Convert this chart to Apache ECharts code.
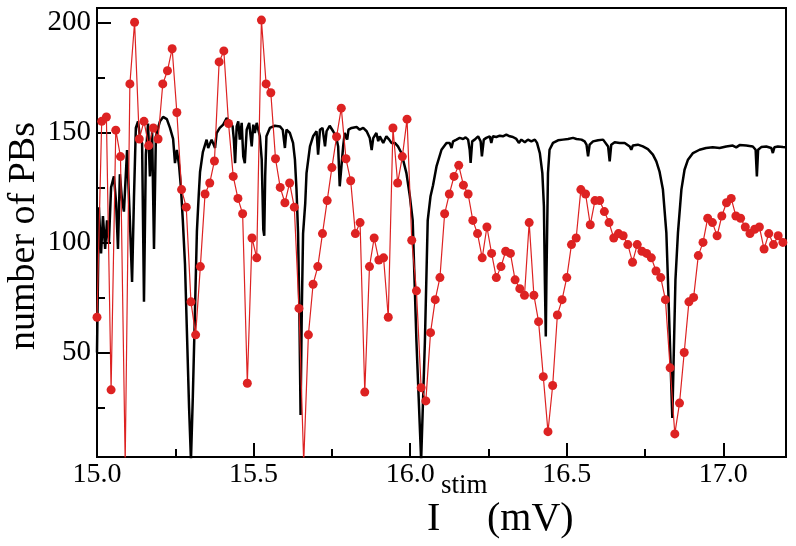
<!DOCTYPE html>
<html><head><meta charset="utf-8">
<script src="https://cdn.jsdelivr.net/npm/echarts@6/dist/echarts.min.js"></script>
<style>html,body{margin:0;padding:0;background:#fff}#c{width:796px;height:546px}</style>
</head><body><div id="c"></div>
<script>
// Red series: number of PBs (dots)
var redX = [
15.000,15.015,15.030,15.045,15.060,15.075,15.090,15.105,15.120,15.135,
15.150,15.165,15.180,15.195,15.210,15.225,15.240,15.255,15.270,15.285,
15.300,15.315,15.330,15.345,15.360,15.375,15.390,15.405,15.420,15.435,
15.450,15.465,15.480,15.495,15.510,15.525,15.540,15.555,15.570,15.585,
15.600,15.615,15.630,15.645,15.660,15.675,15.690,15.705,15.720,15.735,
15.750,15.765,15.780,15.795,15.810,15.825,15.840,15.855,15.870,15.885,
15.900,15.915,15.930,15.945,15.960,15.975,15.990,16.005,16.020,16.035,
16.050,16.065,16.080,16.095,16.110,16.125,16.140,16.155,16.170,16.185,
16.200,16.215,16.230,16.245,16.260,16.275,16.290,16.305,16.320,16.335,
16.350,16.365,16.380,16.395,16.410,16.425,16.440,16.455,16.470,16.485,
16.500,16.515,16.530,16.545,16.560,16.575,16.590,16.605,16.620,16.635,
16.650,16.665,16.680,16.695,16.710,16.725,16.740,16.755,16.770,16.785,
16.800,16.815,16.830,16.845,16.860,16.875,16.890,16.905,16.920,16.935,
16.950,16.965,16.980,16.995,17.010,17.025,17.040,17.055,17.070,17.085,
17.100,17.115,17.130,17.145,17.160,17.175,17.190];
var redY = [
66,155,157,33,151,139,0,172,200,147,
155,144,152,147,172,178,188,159,124,116,
73,58,89,122,127,137,182,187,154,130,
120,113,36,102,93,201,172,168,138,125,
118,127,116,70,0,58,81,89,104,119,
134,148,161,138,128,104,109,32,89,102,
92,93,66,152,127,139,156,101,78,34,
28,59,74,84,113,122,130,135,126,122,
110,104,93,107,95,84,89,96,95,83,
79,76,109,76,64,39,14,35,67,74,
84,99,102,124,122,108,119,119,114,109,
102,104,103,99,91,99,96,95,93,87,
84,74,43,13,27,50,73,75,94,100,
111,109,103,112,118,120,112,111,107,104,
106,107,97,104,99,103,100];

// Black series: continuous curve
var blackX = [
15.000,15.006,15.013,15.019,15.026,15.032,15.038,15.045,15.054,15.061,
15.067,15.073,15.080,15.086,15.096,15.105,15.112,15.118,15.124,15.131,
15.137,15.144,15.150,15.156,15.163,15.169,15.176,15.182,15.188,15.195,
15.201,15.211,15.223,15.233,15.243,15.249,15.255,15.262,15.268,15.274,
15.281,15.287,15.294,15.300,15.306,15.313,15.319,15.325,15.329,15.338,
15.350,15.355,15.366,15.377,15.382,15.392,15.403,15.414,15.424,15.433,
15.437,15.441,15.446,15.451,15.456,15.462,15.467,15.472,15.478,15.486,
15.494,15.499,15.504,15.510,15.515,15.520,15.526,15.531,15.534,15.537,
15.541,15.552,15.568,15.584,15.593,15.600,15.605,15.616,15.626,15.632,
15.637,15.642,15.646,15.650,15.654,15.658,15.665,15.669,15.680,15.690,
15.701,15.706,15.712,15.720,15.728,15.733,15.743,15.754,15.763,15.770,
15.775,15.781,15.786,15.791,15.799,15.803,15.813,15.829,15.839,15.850,
15.861,15.871,15.877,15.882,15.892,15.898,15.903,15.914,15.924,15.933,
15.940,15.951,15.961,15.972,15.988,15.999,16.008,16.020,16.035,16.047,
16.056,16.065,16.073,16.084,16.100,16.116,16.126,16.132,16.137,16.148,
16.158,16.169,16.177,16.185,16.190,16.193,16.198,16.206,16.217,16.225,
16.229,16.235,16.243,16.254,16.259,16.264,16.275,16.286,16.296,16.307,
16.318,16.328,16.339,16.347,16.355,16.366,16.376,16.387,16.398,16.405,
16.414,16.422,16.427,16.430,16.433,16.435,16.440,16.445,16.456,16.472,
16.488,16.504,16.520,16.531,16.547,16.557,16.563,16.568,16.573,16.584,
16.600,16.616,16.621,16.632,16.637,16.642,16.653,16.669,16.685,16.701,
16.706,16.711,16.727,16.743,16.759,16.775,16.786,16.796,16.807,16.818,
16.823,16.837,16.847,16.855,16.866,16.876,16.887,16.903,16.924,16.945,
16.966,16.988,17.009,17.030,17.041,17.052,17.073,17.094,17.103,17.107,
17.111,17.121,17.137,17.153,17.158,17.163,17.174,17.190,17.200];
var blackY = [
50,116,95,112,97,110,100,125,130,118,
97,131,119,114,142,110,82,120,152,155,
148,145,73,140,154,130,150,97,148,152,
155,157,156,152,147,136,142,135,125,110,
90,60,25,1,30,70,105,122,132,141,
146.7,142.9,146.7,142.9,149.7,152,153.5,156.5,155,152.7,
146.7,136,152.7,155,146.7,154.3,139,136,151.2,154.3,
143.6,153.5,149.7,154.3,151.2,148.2,137.6,105.8,103,130,
148.2,152,153,152.7,151.2,142.9,151.2,149.7,145.2,137.6,
124,104.3,70,21.6,70,104,118,131.5,143.6,148.2,
150.5,139.9,151.2,152,143.6,150.5,153,150.5,148.2,143.6,
125.5,124.7,143.6,149.7,146.7,151.2,152,152.4,151.2,152,
150.5,147.4,142,147.4,149.7,146,148.2,145.2,148.2,146.7,
145.2,145.2,143.6,140.6,131.5,120.9,110,55,1,55,
110,121,126,134.5,142.1,145.2,145.2,142.9,145.9,146.7,
147.5,147,147.7,146.7,142.1,136.1,145.9,146.7,148.2,145.9,
139.1,146.7,147.5,148.2,145.2,148.2,147.9,148.5,148.2,149,
148.2,147.9,147,145.2,146.7,145.5,146.7,145.9,146.7,145.2,
140.6,131.5,116.4,83,57.3,83,131.5,142.1,145.2,146.4,
146.7,147,147.5,147,146.7,145.9,144.4,139.1,144.4,145.9,
146.4,146.7,145.9,143.6,136.8,144.4,145.5,145.2,145.2,143.6,
142.1,144,144.4,143.6,142.4,139.9,136.8,132.3,124,104.3,
83,20.2,83,104.3,124,133,137.6,140.6,142.1,142.9,
143.2,142.9,143.6,144,143.2,144.2,144,143.6,142.1,130,
142.1,143.3,143.6,142.9,140.6,143.2,143.6,143.3,143.2];

var xMajorTicks = [15.0, 15.5, 16.0, 16.5, 17.0];
var xMinorTicks = [15.25, 15.75, 16.25, 16.75];
var yMajorTicks = [50, 100, 150, 200];
var yMinorTicks = [25, 75, 125, 175];

var blackData = blackX.map(function(x, i){ return [x, blackY[i]]; });
var redData = redX.map(function(x, i){ return [x, redY[i]]; });

var FONT = 'Liberation Serif';
var chart = echarts.init(document.getElementById('c'), null, {renderer: 'canvas'});
var X0 = 15, X1 = 17.2, Y0 = 2.5, Y1 = 206.5;
chart.setOption({
  animation: false,
  backgroundColor: '#fff',
  grid: {left: 97, top: 8, width: 689, height: 449, show: true, borderColor: '#000', borderWidth: 2, backgroundColor: 'transparent'},
  xAxis: [{
    type: 'value', min: X0, max: X1, position: 'bottom',
    axisLine: {show: true, onZero: false, lineStyle: {color: '#000', width: 2}},
    axisTick: {show: true, inside: true, length: 14, customValues: xMajorTicks, lineStyle: {color: '#000', width: 2}},
    axisLabel: {show: true, customValues: xMajorTicks, margin: 4, fontFamily: FONT, fontSize: 28, color: '#000',
      formatter: function(v){ return v.toFixed(1); }},
    splitLine: {show: false}
  }, {
    type: 'value', min: X0, max: X1, position: 'bottom',
    axisLine: {show: false, onZero: false},
    axisTick: {show: true, inside: true, length: 8, customValues: xMinorTicks, lineStyle: {color: '#000', width: 2}},
    axisLabel: {show: false},
    splitLine: {show: false}
  }],
  yAxis: [{
    type: 'value', min: Y0, max: Y1, position: 'left',
    axisLine: {show: true, onZero: false, lineStyle: {color: '#000', width: 2}},
    axisTick: {show: true, inside: true, length: 14, customValues: yMajorTicks, lineStyle: {color: '#000', width: 2}},
    axisLabel: {show: true, customValues: yMajorTicks, margin: 6, fontFamily: FONT, fontSize: 29, color: '#000'},
    splitLine: {show: false}
  }, {
    type: 'value', min: Y0, max: Y1, position: 'left',
    axisLine: {show: false, onZero: false},
    axisTick: {show: true, inside: true, length: 8, customValues: yMinorTicks, lineStyle: {color: '#000', width: 2}},
    axisLabel: {show: false},
    splitLine: {show: false}
  }],
  graphic: [
    {type: 'text', x: 24, y: 236, rotation: Math.PI / 2,
     style: {text: 'number of PBs', font: '38px "Liberation Serif"', fill: '#000', align: 'center', verticalAlign: 'middle'}},
    {type: 'text', x: 427, y: 519.5,
     style: {text: 'I', font: '40px "Liberation Serif"', fill: '#000', align: 'left', verticalAlign: 'middle'}},
    {type: 'text', x: 441, y: 486,
     style: {text: 'stim', font: '27px "Liberation Serif"', fill: '#000', align: 'left', verticalAlign: 'middle'}},
    {type: 'text', x: 487, y: 519.5,
     style: {text: '(mV)', font: '40px "Liberation Serif"', fill: '#000', align: 'left', verticalAlign: 'middle'}}
  ],
  series: [{
    type: 'line', xAxisIndex: 0, yAxisIndex: 0, data: blackData,
    showSymbol: false, symbol: 'none', clip: true,
    lineStyle: {color: '#000', width: 2.5}, z: 2
  }, {
    type: 'line', xAxisIndex: 0, yAxisIndex: 0, data: redData,
    symbol: 'circle', symbolSize: 9, showSymbol: true, showAllSymbol: true, clip: true,
    lineStyle: {color: '#dd2222', width: 1.2},
    itemStyle: {color: '#dd2222'}, z: 3
  }]
});
</script></body></html>
